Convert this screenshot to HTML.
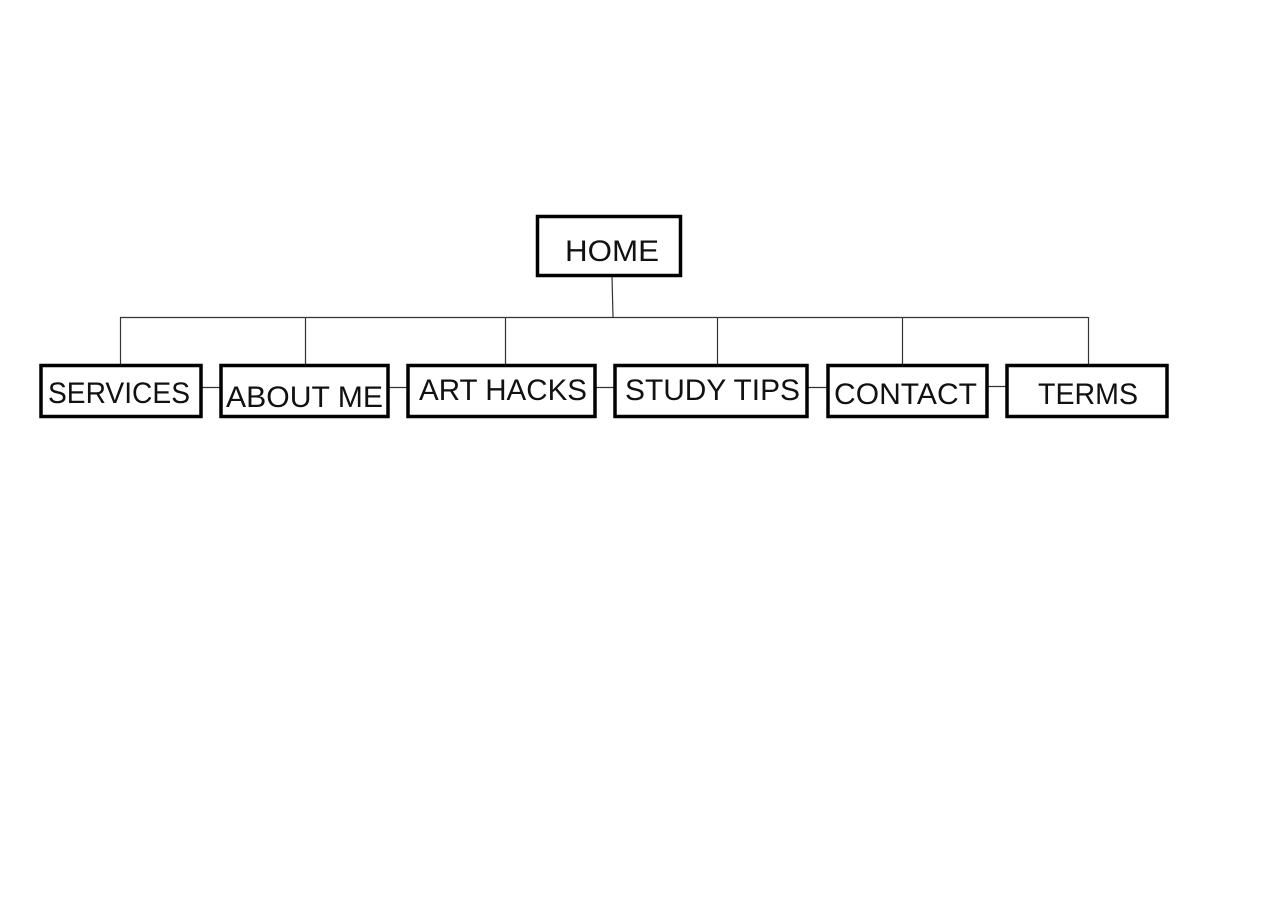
<!DOCTYPE html>
<html><head><meta charset="utf-8"><style>html,body{margin:0;padding:0;background:#fff}svg{display:block}</style></head>
<body>
<svg width="1280" height="910" viewBox="0 0 1280 910" xmlns="http://www.w3.org/2000/svg" font-family="Liberation Sans, sans-serif" font-size="30" fill="#111">
<g stroke="#333" stroke-width="1.2" fill="none">
<line x1="612" y1="276" x2="613" y2="317"/>
<line x1="120" y1="317.5" x2="1088" y2="317.5"/>
<line x1="120.5" y1="317" x2="120.5" y2="364"/>
<line x1="305.5" y1="317" x2="305.5" y2="364"/>
<line x1="505.5" y1="317" x2="505.5" y2="364"/>
<line x1="717.5" y1="317" x2="717.5" y2="364"/>
<line x1="902.5" y1="317" x2="902.5" y2="364"/>
<line x1="1088.5" y1="317" x2="1088.5" y2="364"/>
<line x1="202" y1="387.5" x2="220" y2="387.5"/>
<line x1="389" y1="387.5" x2="407" y2="387.5"/>
<line x1="596" y1="387.5" x2="614" y2="387.5"/>
<line x1="808" y1="387.5" x2="827" y2="387.5"/>
<line x1="988" y1="386.5" x2="1006" y2="386.5"/>
</g>
<g stroke="#000" stroke-width="3.5" fill="#fff">
<rect x="537.5" y="216.5" width="143" height="59"/>
<rect x="41" y="365.5" width="160" height="51"/>
<rect x="221" y="365.5" width="167" height="51"/>
<rect x="408" y="365.5" width="187" height="51"/>
<rect x="615" y="365.5" width="192" height="51"/>
<rect x="828" y="365.5" width="159" height="51"/>
<rect x="1007" y="365.5" width="160" height="51"/>
</g>
<text x="565" y="261" textLength="94" lengthAdjust="spacingAndGlyphs">HOME</text>
<text x="48" y="403" textLength="142" lengthAdjust="spacingAndGlyphs">SERVICES</text>
<text x="226" y="407" textLength="157" lengthAdjust="spacingAndGlyphs">ABOUT ME</text>
<text x="419" y="400" textLength="168" lengthAdjust="spacingAndGlyphs">ART HACKS</text>
<text x="625" y="400" textLength="175" lengthAdjust="spacingAndGlyphs">STUDY TIPS</text>
<text x="834" y="404" textLength="143" lengthAdjust="spacingAndGlyphs">CONTACT</text>
<text x="1038" y="404" textLength="100" lengthAdjust="spacingAndGlyphs">TERMS</text>
</svg>
</body></html>
